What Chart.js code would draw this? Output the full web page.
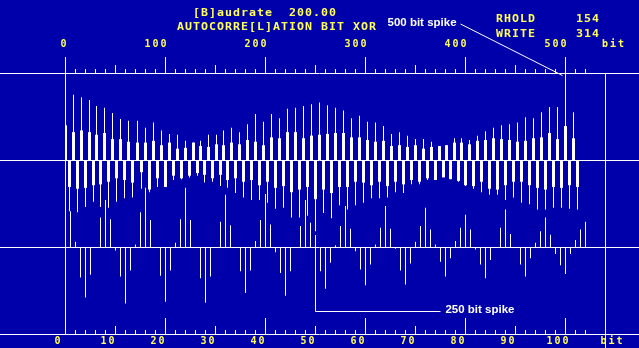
<!DOCTYPE html>
<html>
<head>
<meta charset="utf-8">
<title>Autocorrelation bit XOR</title>
<script src="https://cdn.jsdelivr.net/npm/chart.js@4.4.1/dist/chart.umd.min.js"></script>
<style>
  html, body { margin: 0; padding: 0; background: #0000aa; }
  #scope { position: relative; width: 639px; height: 348px; overflow: hidden; }
  #scope canvas { position: absolute; left: 0; top: 0; }
  .dos {
    position: absolute; margin: 0; white-space: pre; color: #ffff55;
    font: bold 10px/10px "DejaVu Sans Mono", monospace; letter-spacing: 0.88px;
    transform: scaleX(1.16); transform-origin: 0 0;
  }
</style>
</head>
<body>
<div id="scope">
  <canvas id="chart" width="639" height="348"></canvas>
  <div class="dos" style="left:192.5px;top:8.2px">[B]audrate  200.00</div>
  <div class="dos" style="left:176.5px;top:21.5px">AUTOCORRE[L]ATION BIT XOR</div>
  <div class="dos" style="left:496px;top:13.8px">RHOLD     154</div>
  <div class="dos" style="left:496px;top:28.8px">WRITE     314</div>
</div>
<script>
// upper trace: 1 px per bit, one peak and one trough every ~8 bits
const peakBits = [0,8,16,24,31,39,47,55,63,72,80,88,96,104,112,120,128,135,143,151,158,166,174,182,190,198,206,214,222,230,238,246,254,262,270,278,286,294,302,310,318,326,334,342,350,358,366,374,381,389,396,404,412,420,428,436,444,452,460,468,476,484,492,500,508];
const peakValues = [1.00,0.75,0.72,0.69,0.62,0.60,0.54,0.47,0.45,0.45,
  0.37,0.43,0.34,0.30,0.29,0.22,0.20,0.22,0.29,0.29,
  0.34,0.37,0.32,0.41,0.53,0.44,0.53,0.48,0.59,0.60,
  0.62,0.64,0.66,0.63,0.60,0.57,0.48,0.51,0.44,0.43,
  0.39,0.30,0.32,0.28,0.24,0.24,0.21,0.16,0.17,0.25,
  0.25,0.23,0.28,0.33,0.37,0.40,0.41,0.43,0.49,0.48,
  0.55,0.61,0.61,1.00,0.55];
const peakShoulders = [0.40,0.32,0.34,0.32,0.29,0.31,0.24,0.24,0.21,0.20,
  0.20,0.22,0.17,0.20,0.13,0.14,0.20,0.16,0.15,0.18,
  0.17,0.20,0.18,0.23,0.21,0.17,0.26,0.25,0.32,0.32,
  0.25,0.28,0.29,0.30,0.31,0.31,0.26,0.26,0.23,0.21,
  0.22,0.16,0.17,0.15,0.17,0.13,0.15,0.16,0.17,0.20,
  0.20,0.18,0.22,0.23,0.25,0.24,0.23,0.21,0.22,0.25,
  0.26,0.31,0.24,0.39,0.25];
const troughBits = [4,12,20,28,35,43,51,59,67,76,84,92,100,108,116,124,132,139,147,155,162,170,178,186,194,202,210,218,226,234,242,250,258,266,274,282,290,298,306,314,322,330,338,346,354,362,370,378,385,393,400,408,416,424,432,440,448,456,464,472,480,488,496,504,512];
const troughValues = [-0.59,-0.60,-0.54,-0.48,-0.54,-0.55,-0.48,-0.44,-0.43,-0.33,
  -0.37,-0.31,-0.31,-0.23,-0.22,-0.20,-0.18,-0.26,-0.25,-0.30,
  -0.32,-0.38,-0.43,-0.46,-0.46,-0.49,-0.56,-0.55,-0.66,-0.66,
  -0.64,-0.82,-0.61,-0.67,-0.52,-0.57,-0.52,-0.49,-0.44,-0.44,
  -0.43,-0.37,-0.38,-0.28,-0.28,-0.23,-0.21,-0.18,-0.22,-0.25,
  -0.30,-0.33,-0.37,-0.40,-0.40,-0.46,-0.43,-0.49,-0.51,-0.57,
  -0.57,-0.55,-0.55,-0.56,-0.57];
const troughShoulders = [-0.31,-0.33,-0.32,-0.29,-0.28,-0.25,-0.21,-0.23,-0.26,-0.14,
  -0.34,-0.21,-0.31,-0.18,-0.21,-0.18,-0.15,-0.17,-0.21,-0.17,
  -0.23,-0.21,-0.25,-0.23,-0.29,-0.25,-0.32,-0.30,-0.37,-0.34,
  -0.31,-0.45,-0.34,-0.38,-0.31,-0.31,-0.25,-0.26,-0.29,-0.25,
  -0.30,-0.25,-0.28,-0.23,-0.25,-0.21,-0.23,-0.20,-0.22,-0.24,
  -0.29,-0.30,-0.25,-0.33,-0.34,-0.29,-0.25,-0.25,-0.29,-0.32,
  -0.34,-0.31,-0.32,-0.29,-0.31];

// lower trace: first 104 bits, 5 px per bit, on the lower rail
const zoomValues = [0,0.41,0.06,-0.35,-0.58,-0.32,0,0.34,0.54,0.32,
  -0.04,-0.34,-0.65,-0.27,0.03,0.40,0.68,0.31,0,-0.33,
  -0.63,-0.27,0.05,0.32,0.68,0.31,0,-0.36,-0.64,-0.34,
  0,0.29,0.60,0.25,0,-0.28,-0.53,-0.27,0.07,0.31,
  0.61,0.26,-0.06,-0.30,-0.56,-0.28,0,0.24,0.54,0.28,
  0,-0.28,-0.48,-0.18,0.02,0.24,0.47,0.21,-0.05,-0.26,
  -0.44,-0.20,0.03,0.22,0.47,0.21,-0.02,-0.27,-0.43,-0.19,
  0.06,0.24,0.45,0.20,0.03,-0.17,-0.34,-0.13,0.07,0.22,
  0.37,0.20,-0.03,-0.20,-0.36,-0.15,0,0.22,0.43,0.15,
  0,-0.20,-0.34,-0.13,0.05,0.18,0.34,0.14,-0.08,-0.21,
  -0.31,-0.08,0.08,0.20,0.29];

const topTicks = [0, 100, 200, 300, 400, 500];
const bottomTicks = [0, 10, 20, 30, 40, 50, 60, 70, 80, 90, 100];
const unitLabel = 'bit';
const railValues = [1, 0, -1, -2];

const WHITE = '#ffffff';
const YELLOW = '#ffff55';
const DOS_FONT = { family: '"DejaVu Sans Mono", monospace', size: 10, weight: 'bold', lineHeight: 1.2 };

const pts = (xs, ys) => xs.map((x, i) => ({ x, y: ys[i] }));

function bars(data, xAxisID, yAxisID, thickness) {
  return { data, xAxisID, yAxisID, barThickness: thickness, backgroundColor: WHITE,
    borderWidth: 0, grouped: false, inflateAmount: 0 };
}

// rails, graduations, frame lines and the two callouts
const scopeFrame = {
  id: 'scopeFrame',
  beforeDraw(chart) { chart.ctx.letterSpacing = '2px'; },
  beforeDatasetsDraw(chart) {
    const { ctx, scales: { xTop, xBot, yTop } } = chart;
    const col = (scale, v) => Math.round(scale.getPixelForValue(v) - 0.5) + 0.5;
    const yT = Math.round(yTop.getPixelForValue(1));
    const yB = Math.round(yTop.getPixelForValue(-2));
    ctx.save();
    ctx.letterSpacing = '0px';
    ctx.strokeStyle = WHITE;
    ctx.lineWidth = 1;
    ctx.beginPath();
    railValues.forEach(v => {
      const y = Math.round(yTop.getPixelForValue(v)) + 0.5;
      ctx.moveTo(0, y); ctx.lineTo(chart.width, y);
    });
    for (let v = 0; v <= 520; v += 10) {
      const len = v % 100 === 0 ? 16 : v % 50 === 0 ? 8 : 4;
      const x = col(xTop, v);
      ctx.moveTo(x, yT + 1); ctx.lineTo(x, yT - len);
    }
    for (let b = 0; b <= 104; b += 2) {
      const len = b % 20 === 0 ? 16 : b % 10 === 0 ? 8 : 4;
      const x = col(xBot, b);
      ctx.moveTo(x, yB + 1); ctx.lineTo(x, yB - len);
    }
    const x0 = col(xTop, 0);
    ctx.moveTo(x0, yT); ctx.lineTo(x0, yB + 1);
    const xr = col(xTop, 540);
    ctx.moveTo(xr, yT); ctx.lineTo(xr, chart.height);
    ctx.stroke();

    // callouts
    ctx.fillStyle = WHITE;
    ctx.font = 'bold 11.5px "Liberation Sans", Arial, sans-serif';
    ctx.textBaseline = 'alphabetic';
    ctx.textAlign = 'left';
    const t1 = '500 bit spike';
    ctx.fillText(t1, 387.5, 25.5);
    const w1 = ctx.measureText(t1).width;
    ctx.beginPath();
    ctx.moveTo(387.5 + w1 + 4, 24);
    ctx.lineTo(xTop.getPixelForValue(500) - 3, yT + 2.5);
    ctx.stroke();

    const x250 = col(xTop, 250);
    const yTip = Math.round(yTop.getPixelForValue(troughValues[troughBits.indexOf(250)])) + 4;
    const yLead = 311.5;
    ctx.beginPath();
    ctx.moveTo(x250, yTip); ctx.lineTo(x250, yLead); ctx.lineTo(440.5, yLead);
    ctx.stroke();
    ctx.fillText('250 bit spike', 445.4, 313);
    ctx.restore();
  }
};

new Chart(document.getElementById('chart'), {
  type: 'bar',
  data: {
    datasets: [
      bars(pts(peakBits, peakShoulders), 'xTop', 'yTop', 3),
      bars(pts(peakBits, peakValues), 'xTop', 'yTop', 1),
      bars(pts(troughBits, troughShoulders), 'xTop', 'yTop', 3),
      bars(pts(troughBits, troughValues), 'xTop', 'yTop', 1),
      bars(zoomValues.map((y, x) => ({ x, y })), 'xBot', 'yBot', 1)
    ]
  },
  options: {
    responsive: false,
    animation: false,
    events: [],
    layout: { padding: { left: 65, right: 0, top: 0, bottom: 0 } },
    plugins: { legend: { display: false }, tooltip: { enabled: false } },
    scales: {
      xTop: {
        type: 'linear', axis: 'x', position: 'top', min: -0.5, max: 573.5,
        offset: false, bounds: 'data',
        grid: { display: false, drawTicks: false, offset: false },
        border: { display: false },
        afterBuildTicks: s => { s.ticks = topTicks.map(v => ({ value: v })).concat({ value: 557.5 }); },
        afterFit: s => { s.height = 73; s.paddingLeft = 0; s.paddingRight = 0; },
        ticks: {
          autoSkip: false, maxRotation: 0, minRotation: 0, align: 'end', labelOffset: 3,
          padding: 23, color: YELLOW, font: DOS_FONT,
          callback: (v, i) => i < topTicks.length ? String(topTicks[i]) : unitLabel
        }
      },
      xBot: {
        type: 'linear', axis: 'x', position: 'bottom', min: -0.1, max: 114.7,
        offset: false, bounds: 'data',
        grid: { display: false, drawTicks: false, offset: false },
        border: { display: false },
        afterBuildTicks: s => { s.ticks = bottomTicks.map(v => ({ value: v })).concat({ value: 110.8 }); },
        afterFit: s => { s.height = 14; s.paddingLeft = 0; s.paddingRight = 0; },
        ticks: {
          autoSkip: false, maxRotation: 0, minRotation: 0, align: 'center', labelOffset: -7,
          padding: 1.5, color: YELLOW, font: DOS_FONT,
          callback: (v, i) => i < bottomTicks.length ? String(bottomTicks[i]) : unitLabel
        }
      },
      yTop: { type: 'linear', axis: 'y', display: false, min: -2, max: 1 },
      yBot: { type: 'linear', axis: 'y', display: false, min: -1, max: 2 }
    }
  },
  plugins: [scopeFrame]
});
</script>
</body>
</html>
